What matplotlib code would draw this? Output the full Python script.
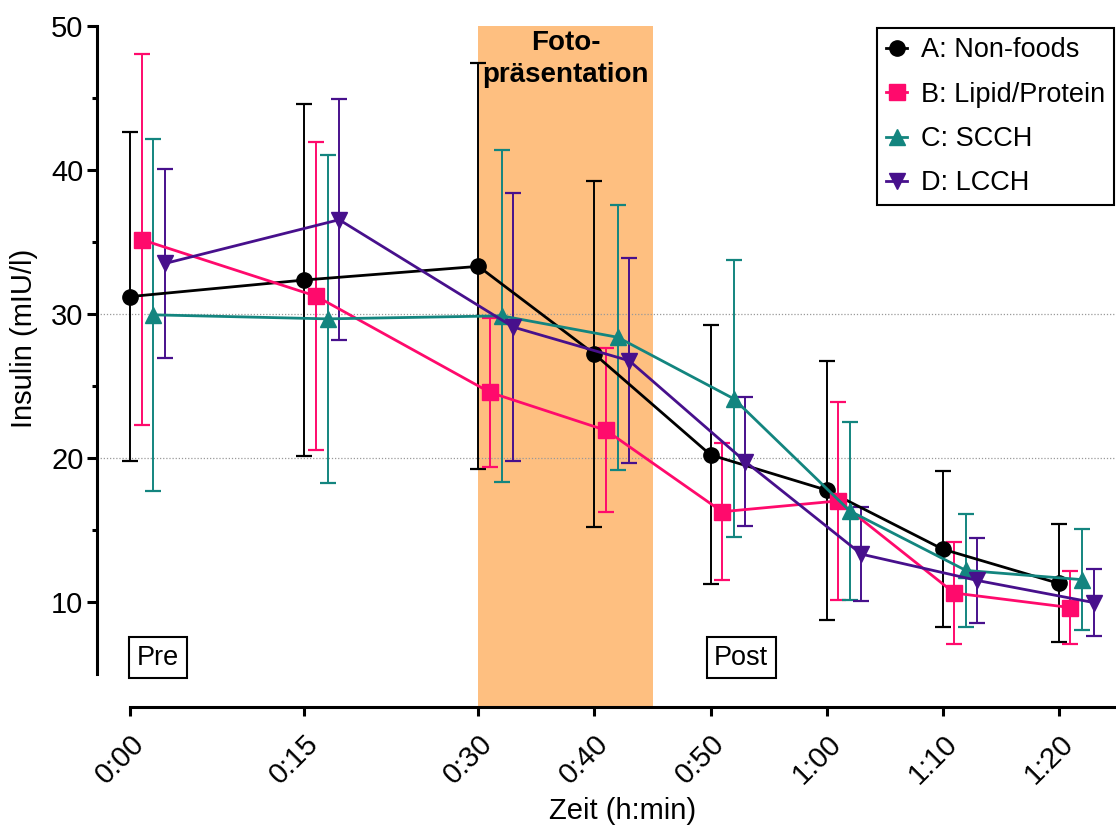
import matplotlib
matplotlib.use("Agg")
import matplotlib.pyplot as plt
from matplotlib.lines import Line2D
import numpy as np

plt.rcParams['font.family'] = ['Liberation Sans', 'DejaVu Sans']

# ---- data ----
times = [0, 15, 30, 40, 50, 60, 70, 80]          # minutes
tick_labels = ['0:00', '0:15', '0:30', '0:40', '0:50', '1:00', '1:10', '1:20']

series_names = ['A: Non-foods', 'B: Lipid/Protein', 'C: SCCH', 'D: LCCH']

a_mean = [31.2, 32.35, 33.3, 27.2, 20.2, 17.75, 13.65, 11.27]
a_sd = [11.4, 12.2, 14.1, 12.0, 9.0, 9.0, 5.4, 4.1]

b_mean = [35.15, 31.23, 24.54, 21.9, 16.25, 17.0, 10.6, 9.59]
b_sd = [12.9, 10.7, 5.15, 5.7, 4.75, 6.9, 3.56, 2.56]

c_mean = [29.93, 29.65, 29.86, 28.37, 24.1, 16.3, 12.17, 11.53]
c_sd = [12.24, 11.39, 11.53, 9.22, 9.64, 6.2, 3.9, 3.5]

d_mean = [33.5, 36.54, 29.08, 26.74, 19.73, 13.3, 11.47, 9.94]
d_sd = [6.58, 8.36, 9.29, 7.13, 4.48, 3.25, 2.98, 2.33]

means = [a_mean, b_mean, c_mean, d_mean]
sds = [a_sd, b_sd, c_sd, d_sd]
offsets = [0, 1, 2, 3]   # horizontal dodge in minutes
colors = ['#000000', '#FF0A6C', '#13857F', '#47108C']
markers = ['o', 's', '^', 'v']

band = (30, 45)
grid_vals = [20, 30]

# ---- figure ----
W, H = 1116, 830
fig = plt.figure(figsize=(W / 100, H / 100), dpi=100)
ax_left, ax_right, ax_top, ax_bottom = 97.3, 1115, 26, 707
ax = fig.add_axes([ax_left / W, 1 - ax_bottom / H,
                   (ax_right - ax_left) / W, (ax_bottom - ax_top) / H])

ax.set_xlim(-2.84, 84.85)
ax.set_ylim(2.68, 50)

ax.axvspan(band[0], band[1], color='#FEBF80', zorder=0, lw=0)
for g in grid_vals:
    ax.axhline(g, color='#999999', lw=0.9, ls=(0, (1, 1.5)), zorder=0.5)

t = np.array(times, dtype=float)
for m, s, off, c, mk, name in zip(means, sds, offsets, colors, markers, series_names):
    ax.errorbar(t + off, m, yerr=s, fmt='none', ecolor=c, elinewidth=1.4,
                capsize=5.8, capthick=1.6, zorder=2)
    ax.plot(t + off, m, marker=mk, color=c, lw=2.0, ms=11, zorder=3, label=name)

# spines
for sp in ['top', 'right']:
    ax.spines[sp].set_visible(False)
ax.spines['left'].set_linewidth(2.2)
ax.spines['bottom'].set_linewidth(2.2)
ax.spines['left'].set_bounds(5, 50)
ax.spines['bottom'].set_bounds(0, 84.85)

ax.set_yticks([10, 20, 30, 40, 50])
ax.set_yticks([15, 25, 35, 45], minor=True)
ax.set_xticks(times)
ax.set_xticklabels(tick_labels, rotation=45, ha='right', va='top',
                   rotation_mode='anchor')
ax.set_xticks([0], minor=True)

ax.tick_params(axis='y', which='major', length=7, width=2.2, labelsize=21, pad=3)
ax.tick_params(axis='y', which='minor', length=3.5, width=2.2)
ax.tick_params(axis='x', which='major', length=6.5, width=2.2, labelsize=21, pad=10)
ax.tick_params(axis='x', which='minor', direction='in', length=6.5, width=2.2)

ax.set_ylabel('Insulin (mIU/l)', fontsize=21)
ax.yaxis.set_label_coords((38 - ax_left) / (ax_right - ax_left),
                          (ax_bottom - 338) / (ax_bottom - ax_top))
ax.set_xlabel('Zeit (h:min)', fontsize=21)
ax.xaxis.set_label_coords((623 - ax_left) / (ax_right - ax_left),
                          (ax_bottom - 797) / (ax_bottom - ax_top))

# annotations
ax.text(37.5, 49.75, 'Foto-\npräsentation', ha='center', va='top',
        fontsize=20, fontweight='bold', linespacing=1.3, zorder=4)
box = dict(boxstyle='square,pad=0.28', fc='white', ec='black', lw=1.5)
ax.text(2.39, 6.11, 'Pre', ha='center', va='center', fontsize=19.5, bbox=box, zorder=4)
ax.text(52.65, 6.11, 'Post', ha='center', va='center', fontsize=19.5, bbox=box, zorder=4)

# legend
handles = [Line2D([0], [0], color=c, marker=mk, lw=2.0, ms=11)
           for c, mk in zip(colors, markers)]
leg = fig.legend(handles, series_names, loc='upper right',
                 bbox_to_anchor=(1114 / W, 1 - 28.3 / H),
                 bbox_transform=fig.transFigure, borderaxespad=0,
                 fontsize=19.5, handlelength=0.8, handletextpad=0.5,
                 labelspacing=0.68, borderpad=0.33, fancybox=False,
                 framealpha=1, edgecolor='black')
leg.get_frame().set_linewidth(1.5)

fig.savefig('out.png', dpi=100)
